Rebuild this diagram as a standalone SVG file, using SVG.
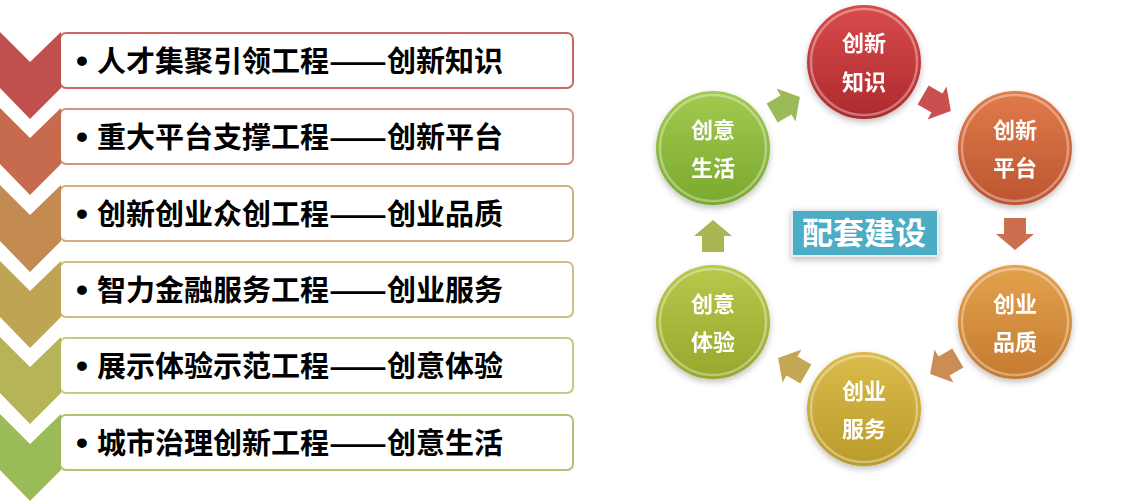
<svg xmlns="http://www.w3.org/2000/svg" xmlns:xlink="http://www.w3.org/1999/xlink" width="1137" height="502" viewBox="0 0 1137 502">
  <style>
    .item { font-family: "Noto Sans CJK SC", "Noto Sans", sans-serif; font-weight: 700; font-size: 29px; fill: #000; }
    .bullet { font-family: "Liberation Sans", Arial, sans-serif; font-weight: 700; font-size: 34px; fill: #000; text-anchor: middle; }
    .box { fill: #fff; stroke-width: 2; }
    .ctext { font-family: "Noto Sans CJK SC", "Noto Sans", sans-serif; font-weight: 700; font-size: 22px; fill: #fff; text-anchor: middle; }
    .rim { fill: none; stroke: #fff; stroke-opacity: 0.35; stroke-width: 2.5; }
    .label { font-family: "Noto Sans CJK SC", "Noto Sans", sans-serif; font-weight: 700; font-size: 31px; fill: #fff; text-anchor: middle; }
  </style>
  <defs>
    <path id="arr" d="M-16,-11 L0,-11 L0,-19 L16,0 L0,19 L0,11 L-16,11 Z"/>
    <filter id="sh" x="-20%" y="-20%" width="140%" height="150%">
      <feDropShadow dx="0" dy="3" stdDeviation="3" flood-color="#000" flood-opacity="0.25"/>
    </filter>
    <linearGradient id="g1" x1="0" y1="0" x2="0" y2="1"><stop offset="0" stop-color="#D84B4C"/><stop offset="1" stop-color="#AE2A2D"/></linearGradient>
    <linearGradient id="g2" x1="0" y1="0" x2="0" y2="1"><stop offset="0" stop-color="#E07C4A"/><stop offset="1" stop-color="#BC5430"/></linearGradient>
    <linearGradient id="g3" x1="0" y1="0" x2="0" y2="1"><stop offset="0" stop-color="#E4A24E"/><stop offset="1" stop-color="#C47A2E"/></linearGradient>
    <linearGradient id="g4" x1="0" y1="0" x2="0" y2="1"><stop offset="0" stop-color="#DBBB4A"/><stop offset="1" stop-color="#BA9A2A"/></linearGradient>
    <linearGradient id="g5" x1="0" y1="0" x2="0" y2="1"><stop offset="0" stop-color="#BAC84C"/><stop offset="1" stop-color="#97A72C"/></linearGradient>
    <linearGradient id="g6" x1="0" y1="0" x2="0" y2="1"><stop offset="0" stop-color="#A2CA50"/><stop offset="1" stop-color="#7AA92E"/></linearGradient>
  </defs>
  <rect width="1137" height="502" fill="#fff"/>

  <!-- left list -->
  <g id="item1">
    <rect class="box" x="60" y="33" width="513" height="55" rx="6" stroke="#CB6866"/>
    <polygon points="0,32 30,62 61,32 61,88 30,119 0,88" fill="#C0504D"/>
    <text class="bullet" x="82" y="72">•</text>
    <text class="item" y="72"><tspan x="97">人才集聚引领工程</tspan><tspan x="329" textLength="58" lengthAdjust="spacingAndGlyphs">——</tspan><tspan x="387">创新知识</tspan></text>
  </g>
  <g id="item2">
    <rect class="box" x="60" y="109" width="513" height="55" rx="6" stroke="#D49580"/>
    <polygon points="0,108 30,138 61,108 61,164 30,195 0,164" fill="#C76B4F"/>
    <text class="bullet" x="82" y="148">•</text>
    <text class="item" y="148"><tspan x="97">重大平台支撑工程</tspan><tspan x="329" textLength="58" lengthAdjust="spacingAndGlyphs">——</tspan><tspan x="387">创新平台</tspan></text>
  </g>
  <g id="item3">
    <rect class="box" x="60" y="186" width="513" height="55" rx="6" stroke="#D3AE84"/>
    <polygon points="0,185 30,215 61,185 61,241 30,272 0,241" fill="#C38A52"/>
    <text class="bullet" x="82" y="225">•</text>
    <text class="item" y="225"><tspan x="97">创新创业众创工程</tspan><tspan x="329" textLength="58" lengthAdjust="spacingAndGlyphs">——</tspan><tspan x="387">创业品质</tspan></text>
  </g>
  <g id="item4">
    <rect class="box" x="60" y="262" width="513" height="55" rx="6" stroke="#CDBE84"/>
    <polygon points="0,261 30,291 61,261 61,317 30,348 0,317" fill="#BFA454"/>
    <text class="bullet" x="82" y="301">•</text>
    <text class="item" y="301"><tspan x="97">智力金融服务工程</tspan><tspan x="329" textLength="58" lengthAdjust="spacingAndGlyphs">——</tspan><tspan x="387">创业服务</tspan></text>
  </g>
  <g id="item5">
    <rect class="box" x="60" y="338" width="513" height="55" rx="6" stroke="#C6CB84"/>
    <polygon points="0,337 30,367 61,337 61,393 30,424 0,393" fill="#B5B457"/>
    <text class="bullet" x="82" y="377">•</text>
    <text class="item" y="377"><tspan x="97">展示体验示范工程</tspan><tspan x="329" textLength="58" lengthAdjust="spacingAndGlyphs">——</tspan><tspan x="387">创意体验</tspan></text>
  </g>
  <g id="item6">
    <rect class="box" x="60" y="415" width="513" height="55" rx="6" stroke="#ABC672"/>
    <polygon points="0,414 30,444 61,414 61,470 30,501 0,470" fill="#9BBB59"/>
    <text class="bullet" x="82" y="454">•</text>
    <text class="item" y="454"><tspan x="97">城市治理创新工程</tspan><tspan x="329" textLength="58" lengthAdjust="spacingAndGlyphs">——</tspan><tspan x="387">创意生活</tspan></text>
  </g>

  <!-- connectors -->
  <g id="connectors">
    <use xlink:href="#arr" href="#arr" transform="translate(786,105) rotate(-30)" fill="#9BBB59"/>
    <use xlink:href="#arr" href="#arr" transform="translate(937,103) rotate(30)" fill="#C9504F"/>
    <use xlink:href="#arr" href="#arr" transform="translate(1015,234) rotate(90)" fill="#CB6F4F"/>
    <use xlink:href="#arr" href="#arr" transform="translate(944,366) rotate(150)" fill="#CC8D55"/>
    <use xlink:href="#arr" href="#arr" transform="translate(792,366) rotate(210)" fill="#C4A754"/>
    <use xlink:href="#arr" href="#arr" transform="translate(713,236) rotate(270)" fill="#ABB553"/>
  </g>

  <!-- circles -->
  <g id="c-zhishi" filter="url(#sh)">
    <circle cx="864" cy="62" r="57" fill="url(#g1)"/>
    <circle class="rim" cx="864" cy="62" r="53"/>
    <text class="ctext" x="864" y="51">创新</text>
    <text class="ctext" x="864" y="90">知识</text>
  </g>
  <g id="c-pingtai" filter="url(#sh)">
    <circle cx="1015" cy="148" r="57" fill="url(#g2)"/>
    <circle class="rim" cx="1015" cy="148" r="53"/>
    <text class="ctext" x="1015" y="138">创新</text>
    <text class="ctext" x="1015" y="176">平台</text>
  </g>
  <g id="c-pinzhi" filter="url(#sh)">
    <circle cx="1015" cy="322" r="57" fill="url(#g3)"/>
    <circle class="rim" cx="1015" cy="322" r="53"/>
    <text class="ctext" x="1015" y="312">创业</text>
    <text class="ctext" x="1015" y="350">品质</text>
  </g>
  <g id="c-fuwu" filter="url(#sh)">
    <circle cx="864" cy="409" r="57" fill="url(#g4)"/>
    <circle class="rim" cx="864" cy="409" r="53"/>
    <text class="ctext" x="864" y="399">创业</text>
    <text class="ctext" x="864" y="437">服务</text>
  </g>
  <g id="c-tiyan" filter="url(#sh)">
    <circle cx="713" cy="322" r="57" fill="url(#g5)"/>
    <circle class="rim" cx="713" cy="322" r="53"/>
    <text class="ctext" x="713" y="312">创意</text>
    <text class="ctext" x="713" y="350">体验</text>
  </g>
  <g id="c-shenghuo" filter="url(#sh)">
    <circle cx="713" cy="148" r="57" fill="url(#g6)"/>
    <circle class="rim" cx="713" cy="148" r="53"/>
    <text class="ctext" x="713" y="138">创意</text>
    <text class="ctext" x="713" y="176">生活</text>
  </g>

  <!-- center label -->
  <g id="label">
    <rect x="792" y="210" width="146" height="46" fill="#4BACC6" stroke="#E8EEF0" stroke-width="2" filter="url(#sh)"/>
    <text class="label" x="864" y="244">配套建设</text>
  </g>
</svg>
